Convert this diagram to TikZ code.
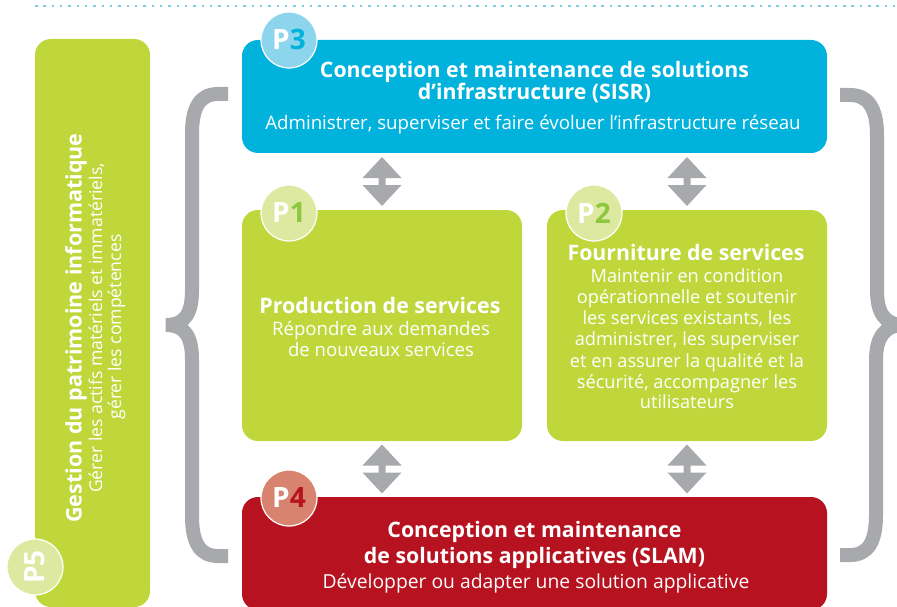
\documentclass[tikz,border=0pt]{standalone}
\usepackage{fontspec}
\setmainfont{Open Sans}
\usetikzlibrary{calc}
\definecolor{boxgreen}{RGB}{191,215,59}
\definecolor{circgreen}{RGB}{221,232,160}
\definecolor{digitgreen}{RGB}{141,198,63}
\definecolor{boxblue}{RGB}{0,178,220}
\definecolor{circblue}{RGB}{141,212,237}
\definecolor{boxred}{RGB}{183,18,32}
\definecolor{circred}{RGB}{216,130,112}
\definecolor{arrgray}{RGB}{167,169,172}
\definecolor{dotblue}{RGB}{125,205,235}
\newcommand\dblarrow[2]{%
  \path ($(#1)!.5!(#1 |- #2)$) coordinate (m);
  \fill[arrgray, shift={(m)}] (0,-24.5) -- (19.5,-3.5) -- (3.5,-3.5) -- (3.5,3.5) -- (19.5,3.5)
    -- (0,24.5) -- (-19.5,3.5) -- (-3.5,3.5) -- (-3.5,-3.5) -- (-19.5,-3.5) -- cycle;}
\begin{document}
\begin{tikzpicture}[x=1pt,y=-1pt,
  box/.style={rounded corners=16pt, inner sep=0, draw=none},
  circ/.style={circle, minimum size=56pt, draw=white, line width=1.2pt, inner sep=0,
    font=\fontsize{28}{28}\selectfont\bfseries},
  ttl/.style={font=\fontsize{21.3}{25}\selectfont\bfseries, text=white, anchor=base, inner sep=0},
  sub/.style={font=\fontsize{18.2}{22}\selectfont, text=white, anchor=base, inner sep=0},
  brace/.style={draw=arrgray, line width=14pt, line join=miter}]
\useasboundingbox (0,0) rectangle (897,607);
\clip (0,0) rectangle (897,607);
% dotted top line
\draw[dotblue, line width=2.2pt, dash pattern=on 2.5pt off 5.83pt] (35,6) -- (897,6);
% P5
\node[box, fill=boxgreen, minimum width=115pt, minimum height=568pt] (p5) at (92.5,323) {};
\node[ttl, rotate=90, font=\fontsize{21.5}{25}\selectfont\bfseries] (t5a) at (81.5,328) {Gestion du patrimoine informatique};
\node[sub, rotate=90, font=\fontsize{17.6}{22}\selectfont] (t5b) at (102,328) {Gérer les actifs matériels et immatériels,};
\node[sub, rotate=90, font=\fontsize{17.6}{22}\selectfont] (t5c) at (121,327) {gérer les compétences};
\node[circ, fill=circgreen, rotate=90] (c5) at (35,567) {\textcolor{white}{P5}};
% braces
\draw[brace] (228,94) -- (218,94) .. controls (200,94) and (192,107) .. (192,134) -- (192,290)
  .. controls (192,312) and (186,325) .. (166,325) .. controls (186,325) and (192,338) .. (192,360)
  -- (192,516) .. controls (192,543) and (200,556) .. (218,556) -- (228,556);
\draw[brace] (840,95) -- (850,95) .. controls (868,95) and (877,108) .. (877,135) -- (877,290)
  .. controls (877,312) and (884,325) .. (904,325) .. controls (884,325) and (876,338) .. (876,360)
  -- (876,515) .. controls (876,542) and (868,555) .. (850,555) -- (840,555);
% P3
\node[box, fill=boxblue, minimum width=585pt, minimum height=113pt] (p3) at (534.5,96.5) {};
\node[ttl] (t3a) at (534.5,78) {Conception et maintenance de solutions};
\node[ttl] (t3b) at (534.5,100) {d’infrastructure (SISR)};
\node[sub, font=\fontsize{18.7}{22}\selectfont] (t3c) at (533,130) {Administrer, superviser et faire évoluer l’infrastructure réseau};
\node[circ, fill=circblue] (c3) at (289,40) {\textcolor{white}{P}\textcolor{boxblue}{3}};
% P1
\node[box, fill=boxgreen, minimum width=280pt, minimum height=231pt] (p1) at (382,325.5) {};
\node[ttl, font=\fontsize{21.4}{25}\selectfont\bfseries] (t1a) at (380,313) {Production de services};
\node[sub, font=\fontsize{18.6}{22}\selectfont] (t1b) at (381,335) {Répondre aux demandes};
\node[sub, font=\fontsize{18.6}{22}\selectfont] (t1c) at (381,356) {de nouveaux services};
\node[circ, fill=circgreen] (c1) at (289,213) {\textcolor{white}{P}\textcolor{digitgreen}{1}};
% P2
\node[box, fill=boxgreen, minimum width=280pt, minimum height=231pt] (p2) at (687,325.5) {};
\node[ttl] (t2a) at (686,260) {Fourniture de services};
\node[sub] (t2b) at (687,282) {Maintenir en condition};
\node[sub] (t2c) at (687,303) {opérationnelle et soutenir};
\node[sub] (t2d) at (687,324) {les services existants, les};
\node[sub] (t2e) at (687,345.5) {administrer, les superviser};
\node[sub] (t2f) at (687,367) {et en assurer la qualité et la};
\node[sub] (t2g) at (687,388) {sécurité, accompagner les};
\node[sub] (t2h) at (687,408.5) {utilisateurs};
\node[circ, fill=circgreen] (c2) at (594,213) {\textcolor{white}{P}\textcolor{digitgreen}{2}};
% P4
\node[box, fill=boxred, minimum width=585pt, minimum height=113pt] (p4) at (534.5,553.5) {};
\node[ttl] (t4a) at (534.5,537) {Conception et maintenance};
\node[ttl] (t4b) at (534.5,563) {de solutions applicatives (SLAM)};
\node[sub, font=\fontsize{19.3}{22}\selectfont] (t4c) at (536,588) {Développer ou adapter une solution applicative};
\node[circ, fill=circred] (c4) at (289,498) {\textcolor{white}{P}\textcolor{boxred}{4}};
% double arrows
\dblarrow{p1.north}{p3.south}
\dblarrow{p2.north}{p3.south}
\dblarrow{p1.south}{p4.north}
\dblarrow{p2.south}{p4.north}
\end{tikzpicture}
\end{document}
